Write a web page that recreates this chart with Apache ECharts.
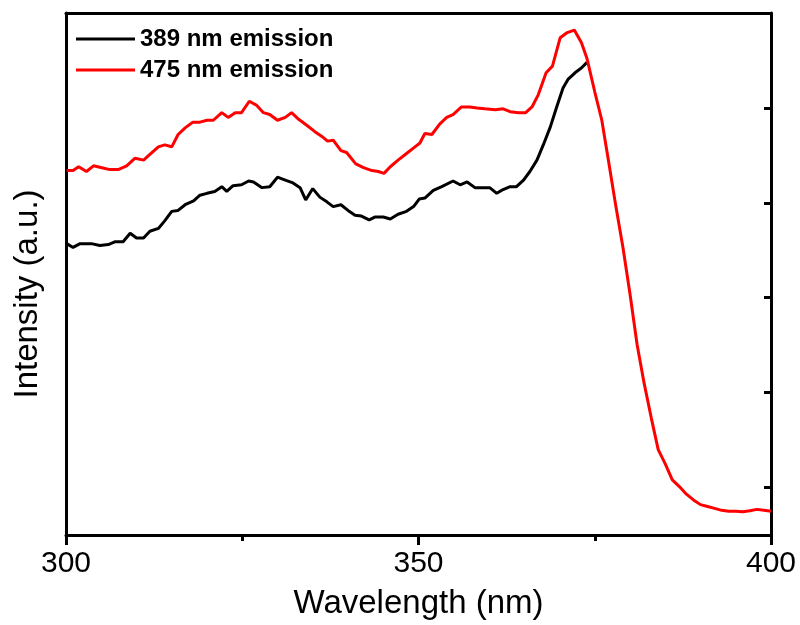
<!DOCTYPE html>
<html>
<head>
<meta charset="utf-8">
<script src="https://cdn.jsdelivr.net/npm/echarts@6/dist/echarts.min.js"></script>
<style>html,body{margin:0;padding:0;background:#fff}#c{width:800px;height:625px}</style>
</head>
<body>
<div id="c"></div>
<script>
const seriesNames = ['389 nm emission', '475 nm emission'];
const xTickLabels = [300, 350, 400];
const yTickValues = [0.5, 1.5, 2.5, 3.5, 4.5];

const wl389 = [300.1,301.0,302.0,303.6,304.8,306.0,307.0,308.1,309.1,310.0,311.0,311.9,313.1,314.0,315.0,315.9,316.9,318.1,319.0,320.0,321.1,322.1,322.8,323.7,324.9,325.9,326.6,327.8,328.9,330.0,331.1,332.2,333.2,334.0,335.0,336.0,337.0,337.9,339.0,340.0,341.0,341.9,343.0,343.8,345.0,346.0,347.1,348.3,349.3,350.1,350.9,352.1,353.3,354.9,355.9,356.9,358.0,359.0,360.1,361.1,362.0,363.0,363.9,364.9,365.8,366.8,367.7,368.7,369.6,370.5,371.2,372.2,373.1,373.9];
const int389 = [3.07,3.03,3.07,3.07,3.05,3.06,3.09,3.09,3.18,3.13,3.13,3.20,3.23,3.31,3.41,3.42,3.48,3.52,3.58,3.60,3.62,3.67,3.62,3.68,3.69,3.73,3.72,3.66,3.67,3.77,3.74,3.71,3.66,3.53,3.65,3.56,3.51,3.46,3.48,3.42,3.37,3.36,3.32,3.35,3.35,3.33,3.38,3.41,3.46,3.54,3.55,3.63,3.67,3.73,3.69,3.72,3.66,3.66,3.66,3.60,3.64,3.67,3.67,3.74,3.83,3.95,4.11,4.30,4.51,4.71,4.80,4.87,4.92,4.98];

const wl475 = [300.1,301.0,301.8,302.9,303.9,305.1,306.2,307.4,308.6,309.8,311.0,311.9,313.1,314.0,315.0,315.9,316.9,318.0,319.0,320.0,320.9,322.1,323.0,324.0,324.9,326.0,327.0,328.0,328.9,330.0,331.1,332.0,333.0,334.1,335.3,336.3,337.1,337.9,339.0,339.8,341.1,342.2,343.4,344.3,345.1,346.0,347.1,348.3,349.5,350.2,350.9,351.9,353.0,354.0,354.9,356.1,357.3,358.3,359.4,360.9,362.0,363.0,364.2,365.2,366.1,367.0,368.1,369.0,370.1,371.0,372.1,373.1,373.9,375,376,377,378,379,380,381,382,383,384,385,386,387,388,389,390,391,392,393,394,395,396,397,398,399,400];
const int475 = [3.84,3.84,3.88,3.83,3.89,3.87,3.85,3.85,3.89,3.97,3.95,4.01,4.09,4.11,4.09,4.22,4.29,4.35,4.35,4.37,4.37,4.45,4.40,4.45,4.45,4.57,4.53,4.45,4.43,4.37,4.40,4.45,4.38,4.32,4.25,4.20,4.15,4.16,4.05,4.03,3.91,3.87,3.84,3.83,3.81,3.88,3.95,4.02,4.09,4.13,4.23,4.22,4.33,4.40,4.43,4.51,4.51,4.50,4.49,4.48,4.49,4.46,4.45,4.45,4.51,4.64,4.87,4.94,5.24,5.29,5.32,5.19,5.02,4.67,4.37,3.92,3.46,3.03,2.54,2.01,1.60,1.24,0.90,0.75,0.58,0.51,0.43,0.37,0.32,0.30,0.28,0.26,0.25,0.25,0.245,0.255,0.27,0.26,0.25];

const pair = (xs, ys) => xs.map((x, i) => [x, ys[i]]);
const FONT = '"Liberation Sans", Arial, sans-serif';

const chart = echarts.init(document.getElementById('c'), null, {renderer: 'canvas'});
chart.setOption({
  animation: false,
  backgroundColor: '#fff',
  grid: {left: 66, right: 29, top: 13, bottom: 89, containLabel: false},
  legend: {
    data: seriesNames,
    orient: 'vertical',
    left: 76, top: 27, padding: 0,
    itemWidth: 59, itemHeight: 3, itemGap: 7,
    icon: 'rect',
    textStyle: {fontFamily: FONT, fontSize: 24, fontWeight: 'bold', color: '#000'}
  },
  xAxis: [{
    type: 'value', min: 300, max: 400, interval: 50,
    name: 'Wavelength (nm)', nameLocation: 'middle', nameGap: 52,
    nameTextStyle: {fontFamily: FONT, fontSize: 33, color: '#000'},
    axisLine: {show: true, onZero: false, lineStyle: {color: '#000', width: 3}},
    axisTick: {show: true, inside: false, length: 10, lineStyle: {color: '#000', width: 3}},
    minorTick: {show: true, splitNumber: 2, length: 6, lineStyle: {color: '#000', width: 3}},
    axisLabel: {show: true, margin: 14, fontFamily: FONT, fontSize: 30, color: '#000',
      customValues: xTickLabels},
    splitLine: {show: false}
  }, {
    type: 'value', min: 300, max: 400, position: 'top',
    axisLine: {show: true, onZero: false, lineStyle: {color: '#000', width: 3}},
    axisTick: {show: false}, axisLabel: {show: false}, splitLine: {show: false}
  }],
  yAxis: [{
    type: 'value', min: 0, max: 5.5, position: 'left',
    name: 'Intensity (a.u.)', nameLocation: 'middle', nameGap: 22,
    nameTextStyle: {fontFamily: FONT, fontSize: 33, color: '#000', padding: [0, 40, 0, 0]},
    axisLine: {show: true, onZero: false, lineStyle: {color: '#000', width: 3}},
    axisTick: {show: false}, axisLabel: {show: false}, splitLine: {show: false}
  }, {
    type: 'value', min: 0, max: 5.5, position: 'right',
    axisLine: {show: true, onZero: false, lineStyle: {color: '#000', width: 3}},
    axisTick: {show: true, inside: true, length: 7, customValues: yTickValues, lineStyle: {color: '#000', width: 3}},
    axisLabel: {show: false}, splitLine: {show: false}
  }],
  series: [{
    name: seriesNames[0], type: 'line', data: pair(wl389, int389),
    showSymbol: false, symbol: 'none', color: '#000',
    lineStyle: {color: '#000', width: 3}, z: 2
  }, {
    name: seriesNames[1], type: 'line', data: pair(wl475, int475),
    showSymbol: false, symbol: 'none', color: '#ff0000',
    lineStyle: {color: '#ff0000', width: 3}, z: 3
  }]
});
</script>
</body>
</html>
